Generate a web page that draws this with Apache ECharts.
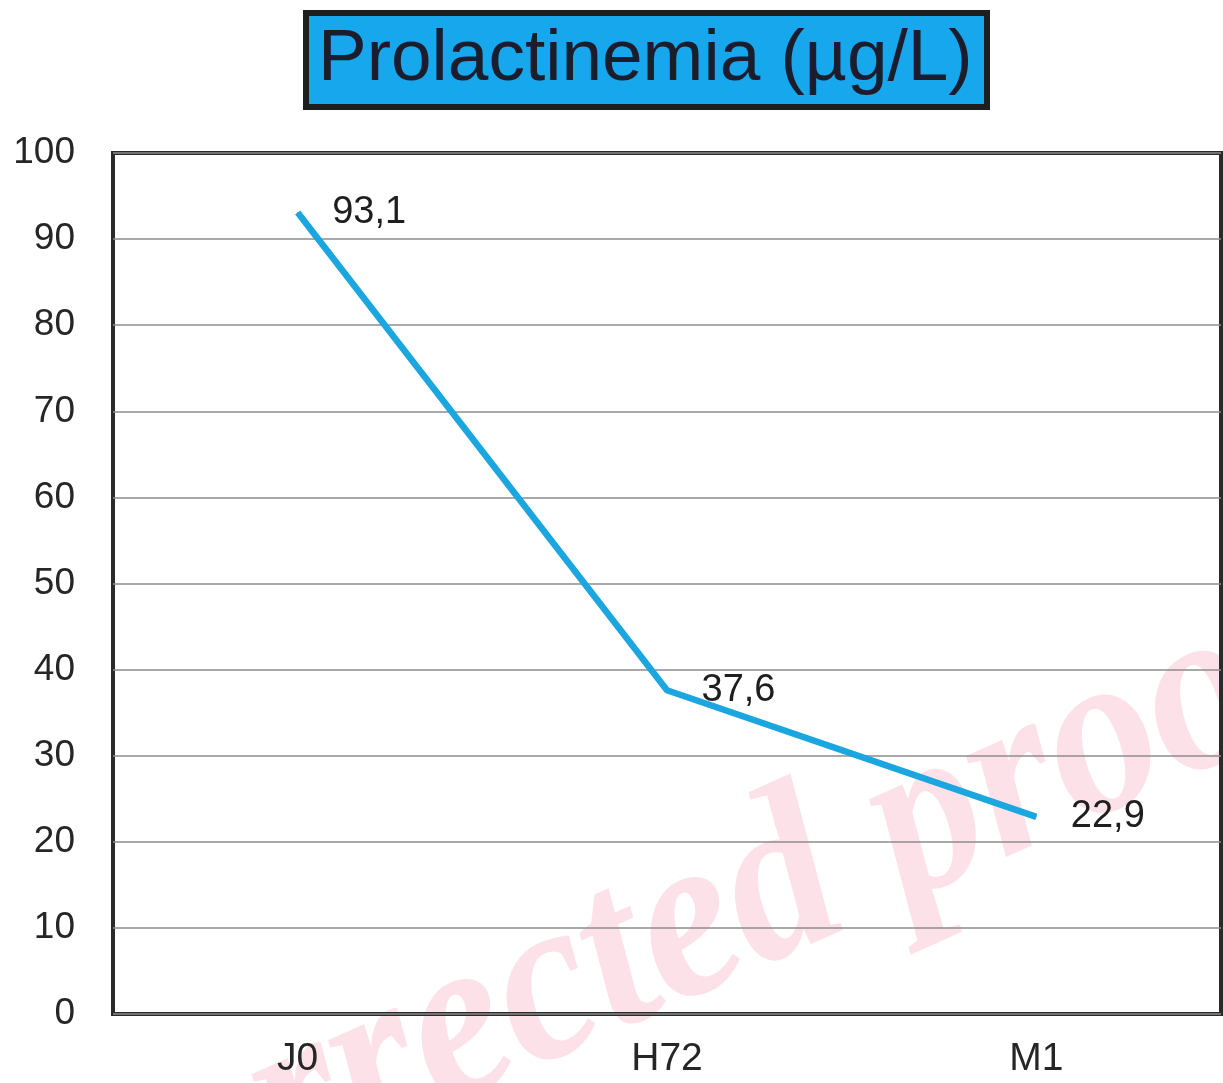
<!DOCTYPE html>
<html>
<head>
<meta charset="utf-8">
<script src="https://cdn.jsdelivr.net/npm/echarts@6/dist/echarts.min.js"></script>
<style>
html,body{margin:0;padding:0;background:#fff;}
#chart{width:1223px;height:1083px;}
</style>
</head>
<body>
<div id="chart"></div>
<script>
const titleText = 'Prolactinemia (µg/L)';
const categories = ['J0', 'H72', 'M1'];
const values = [93.1, 37.6, 22.9];
const yTicks = { min: 0, max: 100, interval: 10 };
const watermarkText = 'Uncorrected proof';

const chart = echarts.init(document.getElementById('chart'));
chart.setOption({
  backgroundColor: '#ffffff',
  animation: false,
  title: {
    text: titleText,
    left: 306,
    top: 13,
    padding: [4, 15, 4, 12],
    backgroundColor: '#17a7ec',
    borderColor: '#1e1e1e',
    borderWidth: 6,
    textStyle: {
      fontFamily: 'Liberation Sans',
      fontSize: 73,
      fontWeight: 'normal',
      color: '#1b1d2c',
      lineHeight: 86
    }
  },
  graphic: [{
    type: 'text',
    z: -10,
    x: 619,
    y: 1092,
    rotation: 24 * Math.PI / 180,
    scaleY: 1.1,
    style: {
      text: watermarkText,
      font: 'italic bold 215px "Liberation Serif"',
      fill: '#fde1e9',
      textAlign: 'center',
      textVerticalAlign: 'bottom'
    }
  }],
  grid: {
    left: 113,
    top: 153,
    width: 1108,
    height: 861,
    show: true,
    borderColor: '#2a2a2a',
    borderWidth: 4,
    backgroundColor: 'transparent'
  },
  xAxis: {
    type: 'category',
    data: categories,
    boundaryGap: true,
    axisLine: { show: false },
    axisTick: { show: false },
    axisLabel: {
      margin: 26,
      fontFamily: 'Liberation Sans',
      fontSize: 39,
      color: '#262626'
    }
  },
  yAxis: {
    type: 'value',
    min: yTicks.min,
    max: yTicks.max,
    interval: yTicks.interval,
    axisLine: { show: false },
    axisTick: { show: false },
    splitLine: { lineStyle: { color: '#8c8c8c', width: 1.5 } },
    axisLabel: {
      margin: 38,
      fontFamily: 'Liberation Sans',
      fontSize: 37,
      color: '#262626'
    }
  },
  series: [{
    type: 'line',
    data: values,
    symbol: 'circle',
    symbolSize: 1,
    itemStyle: { color: '#1ba6e0' },
    lineStyle: { color: '#1ba6e0', width: 6.5 },
    label: {
      show: true,
      position: 'right',
      distance: 34,
      fontFamily: 'Liberation Sans',
      fontSize: 38,
      color: '#1e1e1e',
      formatter: p => String(p.value).replace('.', ',')
    }
  }]
});
</script>
</body>
</html>
